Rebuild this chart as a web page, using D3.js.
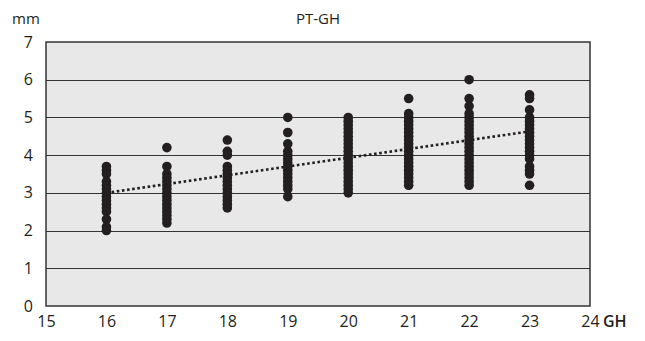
<!DOCTYPE html>
<html>
<head>
<meta charset="utf-8">
<script src="https://cdn.jsdelivr.net/npm/d3@7"></script>
<style>
  body { margin: 0; background: #fff; }
  text { font-family: "Open Sans", "Noto Sans", sans-serif; fill: #231f20; }
</style>
</head>
<body>
<div id="chart"></div>
<script>
const ghWeeks = [16, 17, 18, 19, 20, 21, 22, 23];
const pt16 = [3.7, 3.6, 3.5, 3.3, 3.2, 3.1, 3.0, 2.9, 2.8, 2.7, 2.6, 2.5, 2.3, 2.1, 2.0];
const pt17 = [4.2, 3.7, 3.5, 3.4, 3.3, 3.2, 3.1, 3.0, 2.9, 2.8, 2.7, 2.6, 2.5, 2.4, 2.3, 2.2];
const pt18 = [4.4, 4.1, 4.0, 3.7, 3.6, 3.5, 3.4, 3.3, 3.2, 3.1, 3.0, 2.9, 2.8, 2.7, 2.6];
const pt19 = [5.0, 4.6, 4.3, 4.1, 4.0, 3.9, 3.8, 3.7, 3.6, 3.5, 3.4, 3.3, 3.2, 3.1, 2.9];
const pt20 = [5.0, 4.9, 4.8, 4.7, 4.6, 4.5, 4.4, 4.3, 4.2, 4.1, 4.0, 3.9, 3.8, 3.7, 3.6, 3.5, 3.4, 3.3, 3.2, 3.1, 3.0];
const pt21 = [5.5, 5.1, 5.0, 4.9, 4.8, 4.7, 4.6, 4.5, 4.4, 4.3, 4.2, 4.1, 4.0, 3.9, 3.8, 3.7, 3.6, 3.5, 3.4, 3.3, 3.2];
const pt22 = [6.0, 5.5, 5.3, 5.1, 5.0, 4.9, 4.8, 4.7, 4.6, 4.5, 4.4, 4.3, 4.2, 4.1, 4.0, 3.9, 3.8, 3.7, 3.6, 3.5, 3.4, 3.3, 3.2];
const pt23 = [5.6, 5.5, 5.2, 5.0, 4.9, 4.8, 4.7, 4.6, 4.5, 4.4, 4.3, 4.2, 4.1, 4.0, 3.9, 3.7, 3.6, 3.5, 3.2];
const ptColumns = [pt16, pt17, pt18, pt19, pt20, pt21, pt22, pt23];

// dotted trend line end points
const trendX = [16, 23];
const trendY = [3.0, 4.63];

const xTicks = [15, 16, 17, 18, 19, 20, 21, 22, 23, 24];
const yTicks = [0, 1, 2, 3, 4, 5, 6, 7];

const width = 645, height = 341;
const margin = {top: 42, right: 55, bottom: 35, left: 46};
const innerW = width - margin.left - margin.right;
const innerH = height - margin.top - margin.bottom;
const ink = '#231f20';

const points = [];
ghWeeks.forEach((gh, i) => ptColumns[i].forEach(v => points.push({gh, pt: v})));

const x = d3.scaleLinear().domain([15, 24]).range([0, innerW]);
const y = d3.scaleLinear().domain([0, 7]).range([innerH, 0]);

const svg = d3.select('#chart').append('svg')
  .attr('width', width)
  .attr('height', height);

const main = svg.append('g')
  .attr('transform', `translate(${margin.left},${margin.top})`);

// plot background
main.append('rect')
  .attr('width', innerW)
  .attr('height', innerH)
  .attr('fill', '#e8e8e8');

// horizontal grid lines
main.append('g')
  .selectAll('line')
  .data(yTicks.slice(1, -1))
  .enter()
  .append('line')
  .attr('x1', 0)
  .attr('x2', innerW)
  .attr('y1', d => Math.round(y(d)) + 0.5)
  .attr('y2', d => Math.round(y(d)) + 0.5)
  .attr('stroke', '#333')
  .attr('stroke-width', 1.2);

// frame
main.append('rect')
  .attr('width', innerW)
  .attr('height', innerH)
  .attr('fill', 'none')
  .attr('stroke', '#333')
  .attr('stroke-width', 1.5);

// y axis labels
const yAxis = d3.axisLeft(y).tickValues(yTicks).tickFormat(d3.format('d')).tickSize(0).tickPadding(13);
main.append('g')
  .call(yAxis)
  .call(g => g.select('.domain').remove())
  .selectAll('text')
  .style('font-size', '16px')
  .attr('fill', ink);

// x axis labels
const xAxis = d3.axisBottom(x).tickValues(xTicks).tickFormat(d3.format('d')).tickSize(0).tickPadding(10);
main.append('g')
  .attr('transform', `translate(0,${innerH})`)
  .call(xAxis)
  .call(g => g.select('.domain').remove())
  .selectAll('text')
  .style('font-size', '16px')
  .attr('fill', ink);

// trend line (under the dots)
const line = d3.line()
  .x(d => x(d[0]))
  .y(d => y(d[1]));
main.append('path')
  .datum(d3.zip(trendX, trendY))
  .attr('d', line)
  .attr('fill', 'none')
  .attr('stroke', ink)
  .attr('stroke-width', 2.6)
  .attr('stroke-dasharray', '2.6,2.6');

// dots
main.append('g')
  .selectAll('circle')
  .data(points)
  .enter()
  .append('circle')
  .attr('cx', d => x(d.gh))
  .attr('cy', d => y(d.pt))
  .attr('r', 4.8)
  .attr('fill', ink);

// titles
svg.append('text')
  .attr('x', margin.left + innerW / 2)
  .attr('y', 24)
  .attr('text-anchor', 'middle')
  .style('font-size', '15px')
  .text('PT-GH');

svg.append('text')
  .attr('x', 12)
  .attr('y', 24)
  .style('font-size', '15px')
  .text('mm');

svg.append('text')
  .attr('x', margin.left + x(24) + 13)
  .attr('y', margin.top + innerH + 10)
  .attr('dy', '0.71em')
  .style('font-size', '16px')
  .style('font-weight', '600')
  .text('GH');
</script>
</body>
</html>
